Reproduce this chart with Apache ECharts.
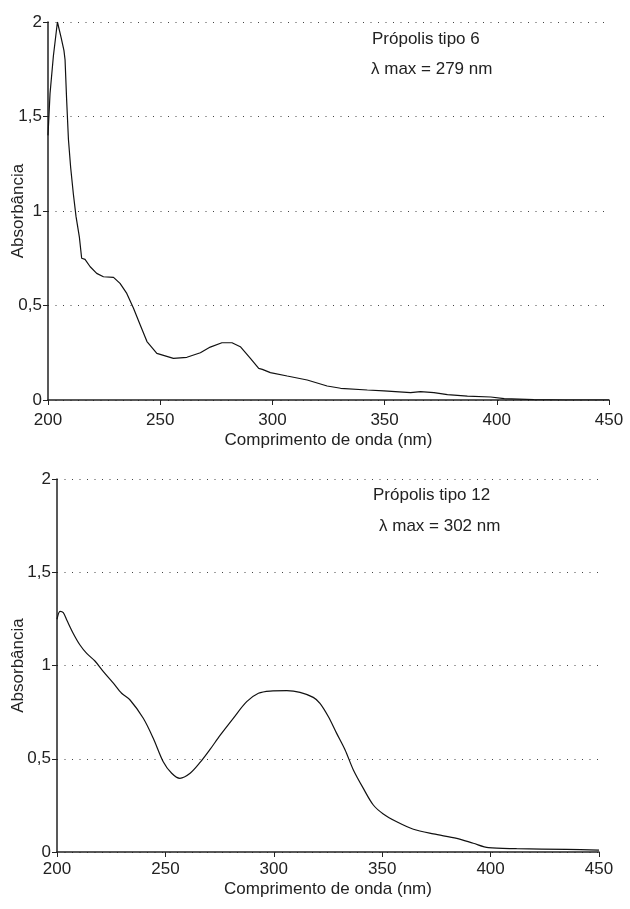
<!DOCTYPE html>
<html>
<head>
<meta charset="utf-8">
<script src="https://cdn.jsdelivr.net/npm/echarts@6/dist/echarts.min.js"></script>
<style>
  html, body { margin: 0; padding: 0; background: #fff; }
  #chart { width: 630px; height: 909px; }
</style>
</head>
<body>
<div id="chart"></div>
<script>
// Própolis tipo 6
var wl6 = [200, 200.9, 202.4, 203.1, 204.2, 205.8, 207.1, 207.6, 208.3, 209.1, 210.1, 211.3, 212.5, 214, 215, 216.5,
  218.8, 221.7, 224.7, 229.2, 232.1, 235.1, 238.1, 241.1, 244.1, 248.5, 255.9, 261.9, 267.9, 272.3, 277.5, 282,
  285.7, 290.2, 293.9, 295.5, 299.1, 306.6, 315.5, 324.4, 330.4, 342.3, 349.7, 361.6, 366, 372, 378, 386.9,
  397.3, 403.3, 416.5, 430, 450];
var abs6 = [1.40, 1.62, 1.82, 1.89, 2.0, 1.92, 1.85, 1.80, 1.59, 1.38, 1.23, 1.09, 0.97, 0.86, 0.75, 0.744,
  0.705, 0.67, 0.652, 0.649, 0.617, 0.564, 0.485, 0.397, 0.309, 0.247, 0.22, 0.226, 0.25, 0.28, 0.303, 0.303,
  0.282, 0.22, 0.167, 0.162, 0.145, 0.127, 0.106, 0.074, 0.062, 0.053, 0.048, 0.039, 0.044, 0.039, 0.028, 0.021,
  0.016, 0.007, 0.002, 0, 0];

// Própolis tipo 12
var wl12 = [200, 201.4, 202.9, 204.5, 207.5, 210.6, 213.7, 217.5, 221.4, 226, 229.8, 233.7, 239.8, 244.4, 249,
  252.9, 256.7, 261.4, 266, 270.6, 275.2, 281.3, 287.5, 292.9, 298.3, 306, 312.1, 318.2, 321.3, 325.2, 329,
  332.9, 336.7, 341.3, 345.9, 350.5, 356.7, 364.4, 373.6, 384.4, 392, 399, 412, 435, 450];
var abs12 = [1.248, 1.29, 1.283, 1.244, 1.172, 1.11, 1.065, 1.024, 0.967, 0.905, 0.851, 0.815, 0.717, 0.61, 0.484,
  0.422, 0.395, 0.422, 0.48, 0.55, 0.625, 0.717, 0.806, 0.851, 0.863, 0.865, 0.856, 0.829, 0.797, 0.725, 0.636,
  0.547, 0.44, 0.341, 0.252, 0.204, 0.162, 0.122, 0.097, 0.073, 0.047, 0.023, 0.018, 0.014, 0.01];

var xRange = [200, 450, 50];
var yRange = [0, 2, 0.5];
var labels = [
  ['Própolis tipo 6', 'λ max = 279 nm'],
  ['Própolis tipo 12', 'λ max = 302 nm']
];

function pairs(xs, ys) {
  return xs.map(function (x, i) { return [x, ys[i]]; });
}

var font = 'Liberation Sans, Arial, sans-serif';
var fs = 17;

function makeX(idx, gap, margin) {
  return {
    gridIndex: idx, type: 'value', min: xRange[0], max: xRange[1], interval: xRange[2],
    name: 'Comprimento de onda (nm)', nameLocation: 'middle', nameGap: gap, nameMoveOverlap: false,
    nameTextStyle: { color: '#222', fontSize: fs, fontFamily: font },
    axisLine: { lineStyle: { color: '#222', width: 1.5 } },
    axisTick: { show: true, length: 5, lineStyle: { color: '#222' } },
    axisLabel: { color: '#222', fontSize: fs, fontFamily: font, margin: margin, hideOverlap: false },
    splitLine: { show: false }
  };
}
function makeY(idx, gap) {
  return {
    gridIndex: idx, type: 'value', min: yRange[0], max: yRange[1], interval: yRange[2],
    name: 'Absorbância', nameLocation: 'middle', nameGap: gap, nameRotate: 90, nameMoveOverlap: false,
    nameTextStyle: { color: '#222', fontSize: fs, fontFamily: font },
    axisLine: { show: true, lineStyle: { color: '#222', width: 1.5 } },
    axisTick: { show: true, length: 5, lineStyle: { color: '#222' } },
    axisLabel: {
      color: '#222', fontSize: fs, fontFamily: font, margin: 6,
      formatter: function (v) { return String(v).replace('.', ','); }
    },
    splitLine: { show: true, lineStyle: { color: '#444', width: 1, type: [1, 6.5] } }
  };
}

function note(text, left, top) {
  return {
    text: text, left: left, top: top, padding: 0,
    textStyle: { color: '#222', fontSize: fs, fontWeight: 'normal', fontFamily: font }
  };
}

var chart = echarts.init(document.getElementById('chart'), null, { renderer: 'canvas' });
chart.setOption({
  backgroundColor: '#fff',
  animation: false,
  title: [
    note(labels[0][0], 372, 31),
    note(labels[0][1], 371, 61),
    note(labels[1][0], 373, 487),
    note(labels[1][1], 379, 518)
  ],
  grid: [
    { left: 48, top: 22, width: 561, height: 378, outerBoundsMode: 'none', containLabel: false },
    { left: 57, top: 479, width: 542, height: 373, outerBoundsMode: 'none', containLabel: false }
  ],
  xAxis: [makeX(0, 32, 12), makeX(1, 29, 9)],
  yAxis: [makeY(0, 21), makeY(1, 30)],
  series: [
    {
      type: 'line', xAxisIndex: 0, yAxisIndex: 0, data: pairs(wl6, abs6),
      showSymbol: false, smooth: false, lineStyle: { color: '#111', width: 1.2 }
    },
    {
      type: 'line', xAxisIndex: 1, yAxisIndex: 1, data: pairs(wl12, abs12),
      showSymbol: false, smooth: 0.3, lineStyle: { color: '#111', width: 1.2 }
    }
  ]
});
</script>
</body>
</html>
